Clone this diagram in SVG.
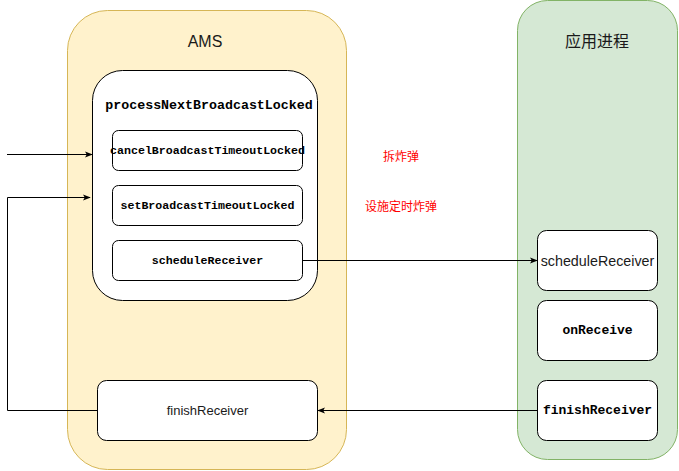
<svg xmlns="http://www.w3.org/2000/svg" width="679" height="471" viewBox="0 0 679 471">
<style>
.box{fill:#fff;stroke:#000;stroke-width:1}
.mono{font-family:"Liberation Mono","DejaVu Sans Mono",monospace;font-weight:bold;fill:#000;text-anchor:middle;dominant-baseline:central}
.sans{font-family:"Liberation Sans",Arial,sans-serif;fill:#1a1a1a;text-anchor:middle;dominant-baseline:central}
.title{font-family:"Liberation Sans","Noto Sans CJK SC",sans-serif;font-size:16px;fill:#1a1a1a;text-anchor:middle;dominant-baseline:central}
.red{font-family:"Noto Sans CJK SC",sans-serif;font-size:12px;fill:#ff0000;text-anchor:middle;dominant-baseline:central}
.conn{fill:none;stroke:#000;stroke-width:1}
</style>
<defs>
<marker id="arr" viewBox="0 0 10 10" refX="9" refY="5" markerWidth="8" markerHeight="8" markerUnits="userSpaceOnUse" orient="auto">
<path d="M0,1 L10,5 L0,9 L2.5,5 Z" fill="#000"/>
</marker>
</defs>
<rect width="679" height="471" fill="#fff"/>
<g id="ams">
<rect x="67.5" y="10.5" width="279" height="459" rx="40" fill="#fff2cc" stroke="#d6b656"/>
<text class="title" x="205" y="41">AMS</text>
</g>
<g id="app">
<rect x="517.5" y="0.5" width="160" height="459" rx="30" fill="#d5e8d4" stroke="#82b366"/>
<text class="title" x="597" y="41">应用进程</text>
</g>
<g id="processNextBroadcastLocked">
<rect class="box" x="92.5" y="70.5" width="225" height="230" rx="30"/>
<text class="mono" x="209" y="105" font-size="13.3">processNextBroadcastLocked</text>
</g>
<g id="cancelBroadcastTimeoutLocked">
<rect class="box" x="112.5" y="130.5" width="190" height="40" rx="6"/>
<text class="mono" x="207.5" y="150.5" font-size="11.6">cancelBroadcastTimeoutLocked</text>
</g>
<g id="setBroadcastTimeoutLocked">
<rect class="box" x="112.5" y="185.5" width="190" height="40" rx="6"/>
<text class="mono" x="207.5" y="205.5" font-size="11.6">setBroadcastTimeoutLocked</text>
</g>
<g id="scheduleReceiverAMS">
<rect class="box" x="112.5" y="240.5" width="190" height="40" rx="6"/>
<text class="mono" x="207.5" y="260.5" font-size="11.6">scheduleReceiver</text>
</g>
<g id="finishReceiverAMS">
<rect class="box" x="97.5" y="380.5" width="220" height="60" rx="9"/>
<text class="sans" x="207.5" y="410.5" font-size="13">finishReceiver</text>
</g>
<g id="scheduleReceiverApp">
<rect class="box" x="537.5" y="230.5" width="120" height="60" rx="9"/>
<text class="sans" x="597.5" y="260.5" font-size="14.3">scheduleReceiver</text>
</g>
<g id="onReceive">
<rect class="box" x="537.5" y="300.5" width="120" height="60" rx="9"/>
<text class="mono" x="597.5" y="330.5" font-size="13">onReceive</text>
</g>
<g id="finishReceiverApp">
<rect class="box" x="537.5" y="380.5" width="120" height="60" rx="9"/>
<text class="mono" x="597.5" y="410.5" font-size="13">finishReceiver</text>
</g>
<g id="labels">
<text class="red" x="401" y="155">拆炸弹</text>
<text class="red" x="401" y="205">设施定时炸弹</text>
</g>
<g id="connectors">
<path class="conn" d="M7,154.5 L92,154.5" marker-end="url(#arr)"/>
<path class="conn" d="M97.5,410.5 L7.5,410.5 L7.5,197.5 L90,197.5" marker-end="url(#arr)"/>
<path class="conn" d="M302.5,260.5 L537,260.5" marker-end="url(#arr)"/>
<path class="conn" d="M537.5,410.5 L318,410.5" marker-end="url(#arr)"/>
</g>
</svg>
